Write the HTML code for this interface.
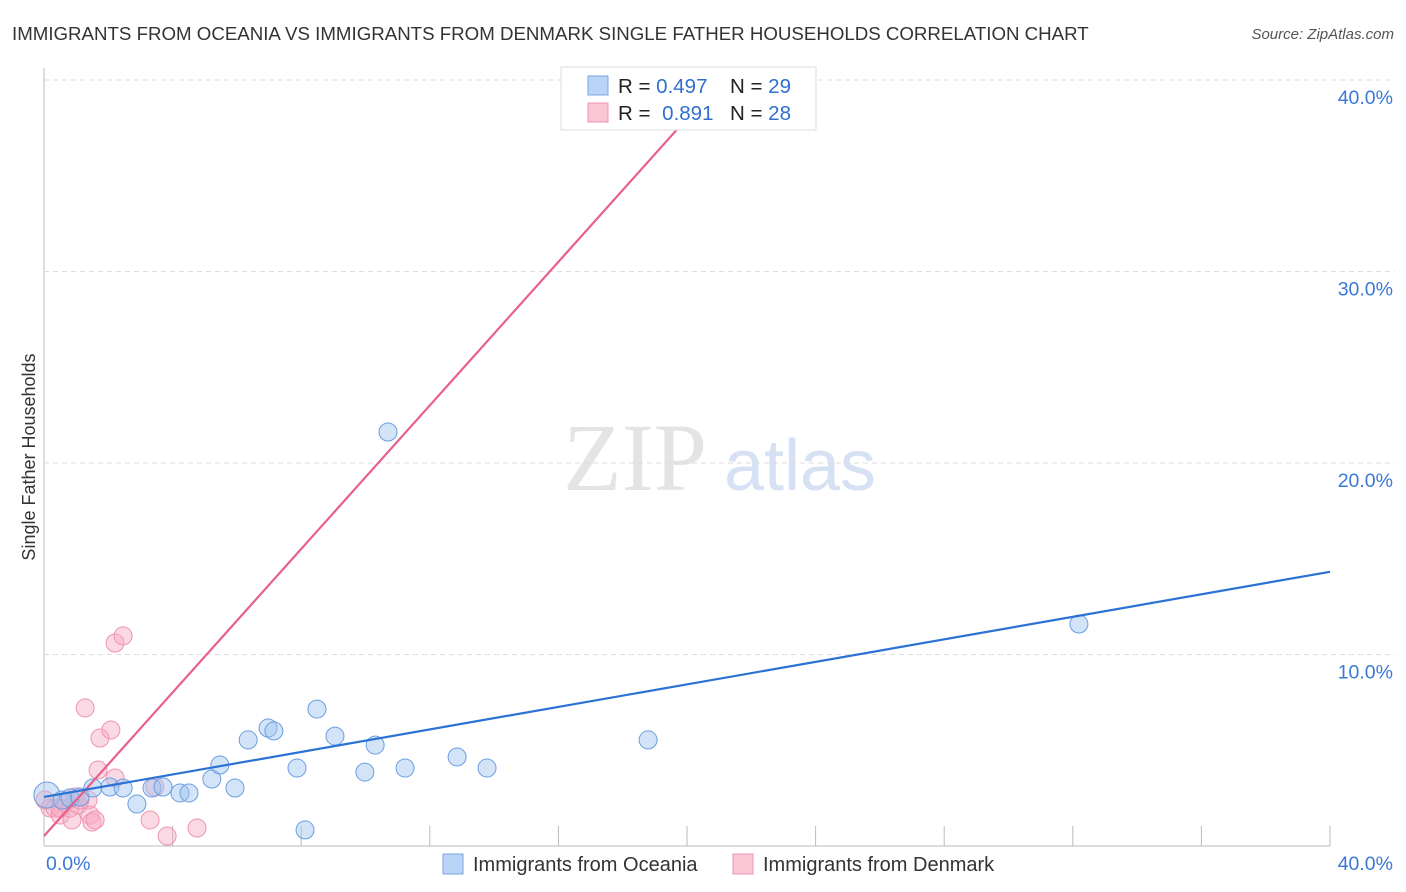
<!DOCTYPE html>
<html><head><meta charset="utf-8"><style>
body{margin:0;background:#fff;font-family:"Liberation Sans",sans-serif}
svg{display:block}
</style></head><body>
<svg id="c" width="1406" height="892" xmlns="http://www.w3.org/2000/svg">
<text x="12" y="40" font-size="18.7" fill="#333">IMMIGRANTS FROM OCEANIA VS IMMIGRANTS FROM DENMARK SINGLE FATHER HOUSEHOLDS CORRELATION CHART</text>
<text x="1394" y="39" font-size="15" fill="#555" font-style="italic" text-anchor="end">Source: ZipAtlas.com</text>
<text x="35" y="457" font-size="18" fill="#333" text-anchor="middle" transform="rotate(-90 35 457)">Single Father Households</text>
<g><text x="635" y="490" font-size="96" fill="#e4e4e4" font-family="Liberation Serif,serif" text-anchor="middle">ZIP</text><text x="800" y="490" font-size="72" fill="#d6e2f3" text-anchor="middle">atlas</text></g>
<g id="grid"></g><g id="pts"></g><g id="lines"></g>
<g>
<rect x="561" y="67" width="255" height="63" fill="#fff" stroke="#ddd"/>
<rect x="588" y="76" width="20" height="19" fill="#b9d4f6" stroke="#7aa6e0"/>
<rect x="588" y="103" width="20" height="19" fill="#f9c6d5" stroke="#ee94b0"/>
<text x="618" y="93" font-size="20.5" fill="#222">R = <tspan fill="#2f6fd0">0.497</tspan></text>
<text x="730" y="93" font-size="20.5" fill="#222">N = <tspan fill="#2f6fd0">29</tspan></text>
<text x="618" y="120" font-size="20.5" fill="#222">R = <tspan fill="#2f6fd0" dx="6">0.891</tspan></text>
<text x="730" y="120" font-size="20.5" fill="#222">N = <tspan fill="#2f6fd0">28</tspan></text>
</g>
<g>
<rect x="443" y="854" width="20" height="20" fill="#b9d4f6" stroke="#7aa6e0"/>
<text x="473" y="871" font-size="20" fill="#333">Immigrants from Oceania</text>
<rect x="733" y="854" width="20" height="20" fill="#f9c6d5" stroke="#ee94b0"/>
<text x="763" y="871" font-size="20" fill="#333">Immigrants from Denmark</text>
</g>
</svg>
<script>
const yTicks=[10,20,30,40];
const yTickLabels=["10.0%","20.0%","30.0%","40.0%"];
const xTicks=[0,4,8,12,16,20,24,28,32,36,40];
const blueX=[0.09,0.56,0.81,1.12,1.52,2.05,2.46,2.89,3.36,3.70,4.23,4.51,5.22,5.47,5.94,6.35,6.97,7.15,7.87,8.12,8.49,9.05,9.98,10.30,11.23,12.85,13.78,18.79,32.19,10.70];
const blueY=[2.66,2.40,2.51,2.56,3.03,3.08,3.03,2.19,3.03,3.08,2.77,2.77,3.50,4.23,3.03,5.54,6.16,6.01,4.07,0.84,7.15,5.74,3.86,5.27,4.07,4.65,4.07,5.54,11.59,21.62];
const pinkX=[0.03,0.19,0.34,0.50,0.65,0.87,1.06,1.28,1.37,1.43,1.49,1.59,1.68,1.74,2.08,2.21,2.21,2.46,3.30,3.45,3.83,4.76,0.5,0.81,0.96,1.12,19.47];
const pinkY=[2.40,1.98,1.98,1.62,2.25,1.36,2.14,7.21,2.40,1.62,1.25,1.36,3.97,5.64,6.06,10.60,3.55,10.97,1.36,3.08,0.52,0.94,1.98,1.98,2.56,2.40,38.43];
const blueFit=[2.56,0.294];
const pinkFit=[0.52,1.874];
const sx=v=>44+v*32.15, sy=v=>846-v*19.15;
const NS="http://www.w3.org/2000/svg";
function mk(tag,attrs,parent){const e=document.createElementNS(NS,tag);for(const k in attrs)e.setAttribute(k,attrs[k]);parent.appendChild(e);return e;}
const g=document.getElementById('grid');
let ax=mk('line',{x1:44,y1:68,x2:44,y2:846,stroke:'#bbb'},g);


let bx=mk('line',{x1:44,y1:846,x2:1330,y2:846,stroke:'#bbb'},g);


yTicks.forEach((t,i)=>{
 const l=mk('line',{x1:44,y1:sy(t),x2:1395,y2:sy(t),stroke:'#ddd','stroke-dasharray':'5,4'},g);
 
 
 const tx=mk('text',{x:1393,y:sy(t)+24,'font-size':19.5,fill:'#3b78d8','text-anchor':'end'},g);
 tx.textContent=yTickLabels[i];
 
 
});
xTicks.forEach(t=>{
 const l=mk('line',{x1:sx(t),y1:826,x2:sx(t),y2:846,stroke:'#bbb'},g);
 
 
});
let x0=mk('text',{x:46,y:870,'font-size':19.5,fill:'#3b78d8'},g);x0.textContent='0.0%';


let x1=mk('text',{x:1393,y:870,'font-size':19.5,fill:'#3b78d8','text-anchor':'end'},g);x1.textContent='40.0%';


const p=document.getElementById('pts');
pinkX.forEach((v,i)=>{const c=mk('circle',{cx:sx(v),cy:sy(pinkY[i]),r:9,fill:'rgba(246,170,195,0.45)',stroke:'#ee94b0','stroke-width':1},p);
 
 });
blueX.forEach((v,i)=>{const c=mk('circle',{cx:sx(v),cy:sy(blueY[i]),r:i==0?13:9,fill:'rgba(160,196,240,0.45)',stroke:'#6a9ee0','stroke-width':1},p);
 
 });
const L=document.getElementById('lines');
let pe=(38.4-pinkFit[0])/pinkFit[1];
let pl=mk('line',{x1:sx(0),y1:sy(pinkFit[0]),x2:sx(pe),y2:sy(pinkFit[0]+pinkFit[1]*pe),stroke:'#e8608a','stroke-width':2.2},L);


let bl=mk('line',{x1:sx(0),y1:sy(blueFit[0]),x2:sx(40),y2:sy(blueFit[0]+blueFit[1]*40),stroke:'#2a72d4','stroke-width':2.2},L);


</script>
</body></html>
